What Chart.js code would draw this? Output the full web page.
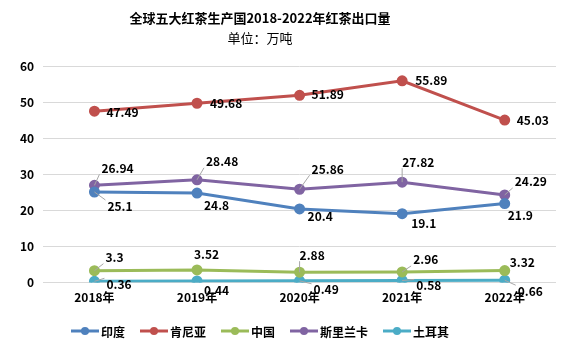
<!DOCTYPE html>
<html>
<head>
<meta charset="utf-8">
<script src="https://cdn.jsdelivr.net/npm/chart.js@4/dist/chart.umd.min.js"></script>
<style>
  html, body { margin: 0; padding: 0; background: #fff; }
  #wrap { width: 582px; height: 362px; }
</style>
</head>
<body>
<div id="wrap"><canvas id="teaChart" width="582" height="362"></canvas></div>
<script>
// data
const years = ['2018年', '2019年', '2020年', '2021年', '2022年'];
const india = [25.1, 24.8, 20.4, 19.1, 21.9];
const kenya = [47.49, 49.68, 51.89, 55.89, 45.03];
const china = [3.3, 3.52, 2.88, 2.96, 3.32];
const sriLanka = [26.94, 28.48, 25.86, 27.82, 24.29];
const turkey = [0.36, 0.44, 0.49, 0.58, 0.66];

const titleText = '全球五大红茶生产国2018-2022年红茶出口量';
const subtitleText = '单位：万吨';

const FONT = '"Noto Sans CJK SC", "Microsoft YaHei", sans-serif';
const CENTER_X = 260; // title and legend are centred a bit left of the canvas middle

// label offsets (left edge / vertical middle relative to the point), leader line on/off
const labelPos = {
    '印度': [[13, 14, 1], [7, 12, 0], [8, 7, 0], [9, 10, 0], [3, 12, 0]],
    '肯尼亚': [[12, 1, 0], [13, 0, 0], [12, -1, 0], [13, 0, 0], [12, 0, 0]],
    '中国': [[11, -13, 1], [-3, -15, 0], [0, -17, 1], [11, -12, 1], [5, -8, 0]],
    '斯里兰卡': [[7, -17, 1], [9, -18, 1], [12, -20, 1], [0, -20, 1], [10, -13, 1]],
    '土耳其': [[12, 3, 1], [7, 9, 0], [14, 9, 1], [14, 5, 1], [13, 11, 1]]
};

const valueLabels = {
    id: 'valueLabels',
    afterDatasetsDraw(chart) {
        const ctx = chart.ctx;
        ctx.save();
        ctx.font = 'bold 12px ' + FONT;
        ctx.textBaseline = 'middle';
        ctx.textAlign = 'left';
        chart.data.datasets.forEach((ds, i) => {
            const meta = chart.getDatasetMeta(i);
            const pos = labelPos[ds.label];
            meta.data.forEach((pt, j) => {
                const [dx, dy, lead] = pos[j];
                const txt = String(ds.data[j]);
                const w = ctx.measureText(txt).width;
                const lx = pt.x + dx, ly = pt.y + dy;
                if (lead) {
                    ctx.strokeStyle = '#a6a6a6';
                    ctx.lineWidth = 1;
                    ctx.beginPath();
                    ctx.moveTo(pt.x, pt.y);
                    const tx = Math.min(Math.max(pt.x, lx - 2), lx + w);
                    const ty = dy < 0 ? ly + 6 : ly - 6;
                    ctx.lineTo(tx, ty);
                    ctx.stroke();
                }
                ctx.fillStyle = '#000';
                ctx.fillText(txt, lx, ly);
            });
        });
        ctx.restore();
    }
};

// titles and legend drawn by hand so they can sit off-centre like the original
const titlesAndLegend = {
    id: 'titlesAndLegend',
    afterDraw(chart) {
        const ctx = chart.ctx;
        ctx.save();
        ctx.fillStyle = '#000';
        ctx.textAlign = 'center';
        ctx.textBaseline = 'middle';
        ctx.font = 'bold 13px ' + FONT;
        ctx.fillText(titleText, CENTER_X, 18);
        ctx.font = '13px ' + FONT;
        ctx.fillText(subtitleText, CENTER_X, 38);

        // legend
        ctx.font = 'bold 12px ' + FONT;
        const markW = 28, gapText = 2, gapItem = 15;
        const items = chart.data.datasets.map(ds => ({
            text: ds.label, color: ds.borderColor, w: ctx.measureText(ds.label).width
        }));
        let total = 0;
        items.forEach((it, k) => { total += markW + gapText + it.w + (k ? gapItem : 0); });
        let x = CENTER_X - total / 2;
        const y = 331;
        ctx.textAlign = 'left';
        items.forEach(it => {
            ctx.strokeStyle = it.color;
            ctx.lineWidth = 3;
            ctx.beginPath(); ctx.moveTo(x, y); ctx.lineTo(x + markW, y); ctx.stroke();
            ctx.fillStyle = it.color;
            ctx.beginPath(); ctx.arc(x + markW / 2, y, 4, 0, Math.PI * 2); ctx.fill();
            ctx.fillStyle = '#000';
            ctx.fillText(it.text, x + markW + gapText, y + 1);
            x += markW + gapText + it.w + gapItem;
        });
        ctx.restore();
    }
};

function series(label, data, color) {
    return {
        label: label,
        data: data,
        borderColor: color,
        backgroundColor: color,
        borderWidth: 3,
        pointRadius: 4,
        pointHoverRadius: 4,
        tension: 0
    };
}

new Chart(document.getElementById('teaChart'), {
    type: 'line',
    data: {
        labels: years,
        datasets: [
            series('印度', india, '#4F81BD'),
            series('肯尼亚', kenya, '#C0504D'),
            series('中国', china, '#9BBB59'),
            series('斯里兰卡', sriLanka, '#8064A2'),
            series('土耳其', turkey, '#4BACC6')
        ]
    },
    options: {
        responsive: false,
        animation: false,
        layout: { padding: { left: 11, right: 26, top: 66, bottom: 49 } },
        plugins: {
            legend: { display: false },
            tooltip: { enabled: false }
        },
        scales: {
            x: {
                offset: true,
                grid: { display: false, drawTicks: false },
                border: { display: false },
                ticks: {
                    color: '#000',
                    padding: 8,
                    font: { family: FONT, size: 12, weight: 'bold' }
                }
            },
            y: {
                min: 0,
                max: 60,
                border: { display: false },
                grid: { color: '#d9d9d9', drawTicks: false },
                ticks: {
                    stepSize: 10,
                    color: '#000',
                    padding: 9,
                    font: { family: FONT, size: 12, weight: 'bold' }
                }
            }
        }
    },
    plugins: [valueLabels, titlesAndLegend]
});
</script>
</body>
</html>
